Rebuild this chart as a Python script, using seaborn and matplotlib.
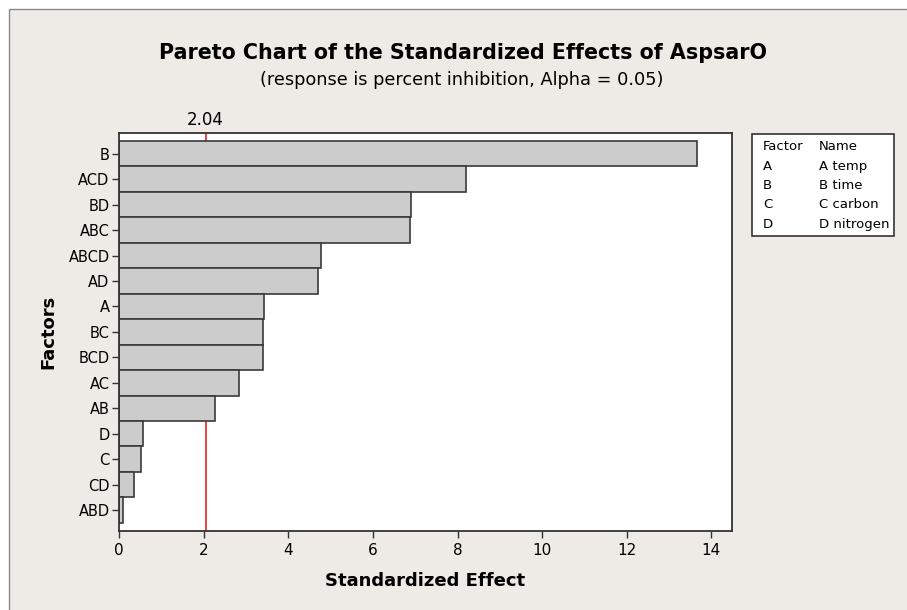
import matplotlib
matplotlib.use("Agg")
import matplotlib.pyplot as plt
import seaborn as sns
import pandas as pd
from matplotlib.patches import Rectangle

factors = ["B", "ACD", "BD", "ABC", "ABCD", "AD", "A", "BC", "BCD", "AC", "AB", "D", "C", "CD", "ABD"]
effects = [13.65, 8.20, 6.90, 6.87, 4.77, 4.69, 3.42, 3.40, 3.40, 2.84, 2.27, 0.56, 0.51, 0.34, 0.095]
alpha_line = 2.04
x_ticks = [0, 2, 4, 6, 8, 10, 12, 14]

legend_factors = ["A", "B", "C", "D"]
legend_names = ["A temp", "B time", "C carbon", "D nitrogen"]

df = pd.DataFrame({"factor": factors, "effect": effects})

sns.set_style("white")
plt.rcParams["font.family"] = ["DejaVu Sans"]
plt.rcParams["text.color"] = "black"
plt.rcParams["axes.labelcolor"] = "black"
plt.rcParams["xtick.color"] = "black"
plt.rcParams["ytick.color"] = "black"

W, H = 907, 610
fig = plt.figure(figsize=(W / 100, H / 100), dpi=100, facecolor="white")

def fx(px):
    return px / W

def fy(py):
    return 1 - py / H

# beige panel with thin border, runs off the right and bottom edges
fig.patches.append(Rectangle((fx(9), -0.1), 1.2, fy(9) + 0.1, transform=fig.transFigure,
                             facecolor="#eeeae5", edgecolor="#8a8a8a", linewidth=1.0, zorder=-10))

ax = fig.add_axes([fx(119.3), fy(530.5), fx(731.7) - fx(119.3), fy(133.3) - fy(530.5)])
ax.set_facecolor("white")

ax.axvline(alpha_line, color="#e8231f", linewidth=1.2, zorder=0)
sns.barplot(data=df, x="effect", y="factor", orient="h", width=1.0, color="#cccccc",
            edgecolor="#3a3a3a", linewidth=1.2, saturation=1, ax=ax, zorder=2)

ax.set_xlim(0, 14.48)
ax.set_ylim(14.8, -0.8)
ax.set_xticks(x_ticks)
ax.set_xticklabels([str(t) for t in x_ticks], fontsize=11)
ax.tick_params(axis="y", labelsize=10.5, length=5, width=1, color="#333333", left=True, pad=2)
ax.tick_params(axis="x", length=5, width=1, color="#333333", bottom=True, pad=4)
for s in ax.spines.values():
    s.set_color("#333333")
    s.set_linewidth(1.3)

ax.set_xlabel("Standardized Effect", fontsize=13, fontweight="bold", labelpad=10)
ax.set_ylabel("Factors", fontsize=13, fontweight="bold", labelpad=8)

ax.text(alpha_line, 1.012, f"{alpha_line:.2f}", transform=ax.get_xaxis_transform(),
        ha="center", va="bottom", fontsize=12)

fig.text(fx(463), fy(53), "Pareto Chart of the Standardized Effects of AspsarO",
         ha="center", va="center", fontsize=14.9, fontweight="bold")
fig.text(fx(462), fy(80), "(response is percent inhibition, Alpha = 0.05)",
         ha="center", va="center", fontsize=12.8)

# factor name box
fig.patches.append(Rectangle((fx(752.3), fy(236)), fx(894) - fx(752.3), fy(134) - fy(236),
                             transform=fig.transFigure, facecolor="white", edgecolor="#333333",
                             linewidth=1.2))
rows = [("Factor", "Name")] + list(zip(legend_factors, legend_names))
for i, (f, n) in enumerate(rows):
    y = fy(147 + i * 19.3)
    fig.text(fx(763), y, f, ha="left", va="center", fontsize=9.5)
    fig.text(fx(819), y, n, ha="left", va="center", fontsize=9.5)

fig.savefig("out.png", dpi=100, facecolor=fig.get_facecolor())
